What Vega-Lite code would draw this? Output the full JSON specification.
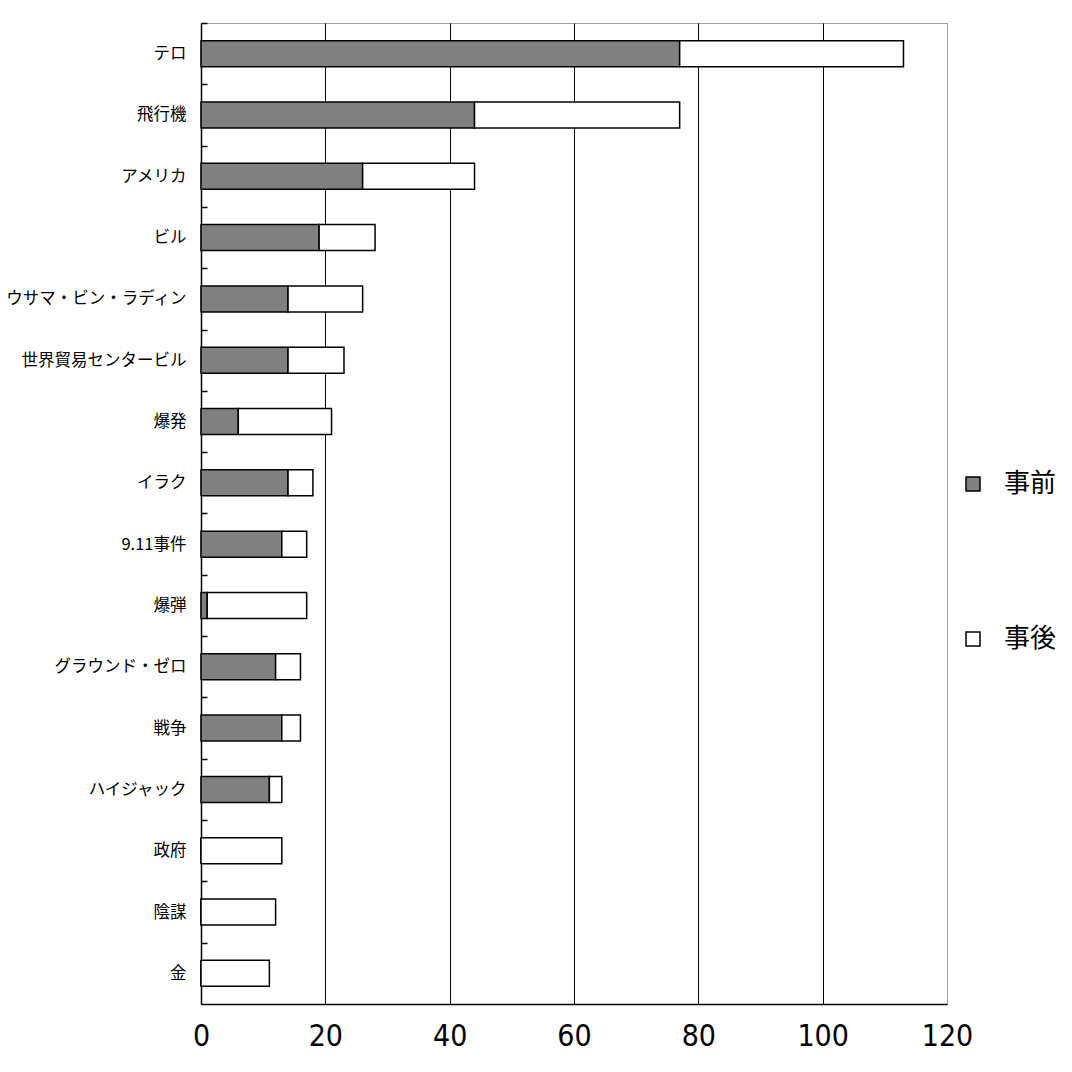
{
  "$schema": "https://vega.github.io/schema/vega-lite/v6.json",
  "autosize": "none",
  "width": 746,
  "height": 981,
  "padding": {"left": 201, "top": 23, "right": 125, "bottom": 68},
  "background": "white",
  "data": {
    "values": [
      {"word": "テロ", "phase": "事前", "count": 77},
      {"word": "テロ", "phase": "事後", "count": 36},
      {"word": "飛行機", "phase": "事前", "count": 44},
      {"word": "飛行機", "phase": "事後", "count": 33},
      {"word": "アメリカ", "phase": "事前", "count": 26},
      {"word": "アメリカ", "phase": "事後", "count": 18},
      {"word": "ビル", "phase": "事前", "count": 19},
      {"word": "ビル", "phase": "事後", "count": 9},
      {"word": "ウサマ・ビン・ラディン", "phase": "事前", "count": 14},
      {"word": "ウサマ・ビン・ラディン", "phase": "事後", "count": 12},
      {"word": "世界貿易センタービル", "phase": "事前", "count": 14},
      {"word": "世界貿易センタービル", "phase": "事後", "count": 9},
      {"word": "爆発", "phase": "事前", "count": 6},
      {"word": "爆発", "phase": "事後", "count": 15},
      {"word": "イラク", "phase": "事前", "count": 14},
      {"word": "イラク", "phase": "事後", "count": 4},
      {"word": "9.11事件", "phase": "事前", "count": 13},
      {"word": "9.11事件", "phase": "事後", "count": 4},
      {"word": "爆弾", "phase": "事前", "count": 1},
      {"word": "爆弾", "phase": "事後", "count": 16},
      {"word": "グラウンド・ゼロ", "phase": "事前", "count": 12},
      {"word": "グラウンド・ゼロ", "phase": "事後", "count": 4},
      {"word": "戦争", "phase": "事前", "count": 13},
      {"word": "戦争", "phase": "事後", "count": 3},
      {"word": "ハイジャック", "phase": "事前", "count": 11},
      {"word": "ハイジャック", "phase": "事後", "count": 2},
      {"word": "政府", "phase": "事前", "count": 0},
      {"word": "政府", "phase": "事後", "count": 13},
      {"word": "陰謀", "phase": "事前", "count": 0},
      {"word": "陰謀", "phase": "事後", "count": 12},
      {"word": "金", "phase": "事前", "count": 0},
      {"word": "金", "phase": "事後", "count": 11}
    ]
  },
  "mark": {"type": "bar", "stroke": "black", "strokeWidth": 1.5},
  "encoding": {
    "y": {
      "field": "word",
      "type": "nominal",
      "sort": null,
      "scale": {"paddingInner": 0.575, "paddingOuter": 0.2875},
      "axis": {
        "title": null,
        "offset": -6,
        "domain": false,
        "ticks": true,
        "tickOffset": -30.66,
        "tickSize": 6,
        "tickWidth": 1.5,
        "tickColor": "black",
        "tickOpacity": 1,
        "labelOffset": 30.66,
        "labelPadding": 15,
        "labelLimit": 0,
        "labelFont": "Noto Sans CJK JP",
        "labelFontSize": 16.5,
        "labelColor": "black"
      }
    },
    "x": {
      "field": "count",
      "type": "quantitative",
      "stack": "zero",
      "scale": {"domain": [0, 120], "nice": false},
      "axis": {
        "title": null,
        "values": [0, 20, 40, 60, 80, 100, 120],
        "ticks": false,
        "grid": true,
        "gridColor": {"condition": {"test": "datum.value === 120", "value": "#a0a0a0"}, "value": "black"},
        "gridWidth": {"condition": {"test": "datum.value === 0", "value": 1.5}, "value": 1},
        "domainColor": "black",
        "domainWidth": 1.5,
        "labelPadding": 17,
        "labelFont": "Liberation Sans Narrow, DejaVu Sans Condensed, sans-serif",
        "labelFontSize": 30,
        "labelColor": "black",
        "labelFlush": false
      }
    },
    "color": {
      "field": "phase",
      "type": "nominal",
      "sort": ["事前", "事後"],
      "scale": {"domain": ["事前", "事後"], "range": ["#808080", "#ffffff"]},
      "legend": {
        "title": null,
        "orient": "none",
        "legendX": 759,
        "legendY": 448,
        "padding": 0,
        "symbolType": "square",
        "symbolSize": 196,
        "symbolStrokeColor": "black",
        "symbolStrokeWidth": 1.5,
        "labelFont": "Noto Sans CJK JP",
        "labelFontSize": 26,
        "labelColor": "black",
        "labelOffset": 18,
        "rowPadding": 129
      }
    },
    "order": {"field": "phase", "sort": "ascending"}
  },
  "config": {
    "view": {"stroke": "#a0a0a0", "strokeWidth": 1}
  }
}
